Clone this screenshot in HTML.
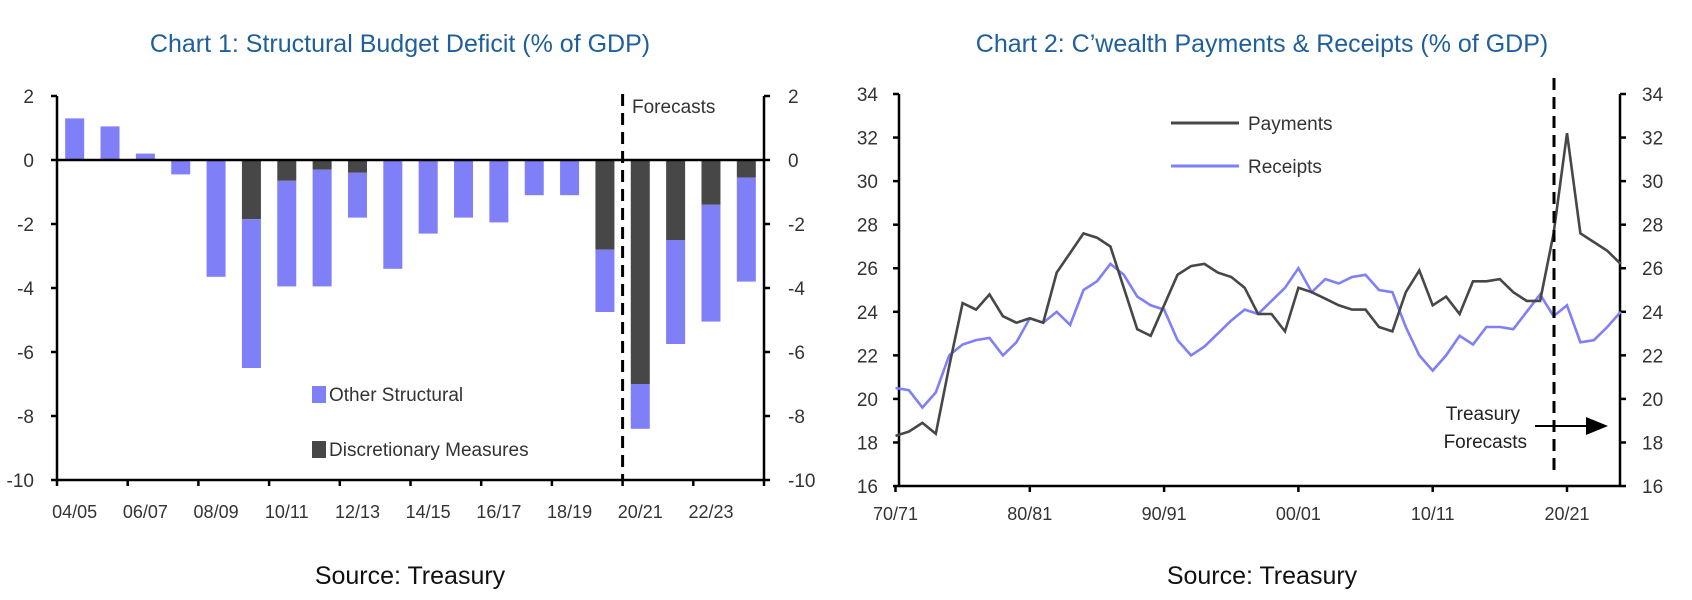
<!DOCTYPE html>
<html><head><meta charset="utf-8"><style>
body{margin:0;background:#fff;}
svg{display:block;font-family:"Liberation Sans",sans-serif;}
</style></head><body>
<svg id="root" width="1692" height="600" viewBox="0 0 1692 600">
<text x="400" y="52" text-anchor="middle" font-size="25" fill="#1f5f9c">Chart 1: Structural Budget Deficit (% of GDP)</text>
<text x="1262" y="52" text-anchor="middle" font-size="25" fill="#1f5f9c">Chart 2: C’wealth Payments &amp; Receipts (% of GDP)</text>
<text x="410" y="584" text-anchor="middle" font-size="25" fill="#111">Source: Treasury</text>
<text x="1262" y="584" text-anchor="middle" font-size="25" fill="#111">Source: Treasury</text>
<g id="c1"></g><g id="c2"></g>
</svg>
<script>
const c1Categories=["04/05","05/06","06/07","07/08","08/09","09/10","10/11","11/12","12/13","13/14","14/15","15/16","16/17","17/18","18/19","19/20","20/21","21/22","22/23","23/24"];
const c1Discretionary=[0,0,0,0,0,-1.85,-0.65,-0.3,-0.4,0,0,0,0,0,0,-2.8,-7.0,-2.5,-1.4,-0.55];
const c1Other=[1.3,1.05,0.2,-0.45,-3.65,-4.65,-3.3,-3.65,-1.4,-3.4,-2.3,-1.8,-1.95,-1.1,-1.1,-1.95,-1.4,-3.25,-3.65,-3.25];
const c1Ticks=[2,0,-2,-4,-6,-8,-10];
const c1XLabels=["04/05","06/07","08/09","10/11","12/13","14/15","16/17","18/19","20/21","22/23"];

const c2Years=[];for(let y=1970;y<=2024;y++)c2Years.push(y);
const c2Payments=[18.3,18.5,18.9,18.4,21.5,24.4,24.1,24.8,23.8,23.5,23.7,23.5,25.8,26.7,27.6,27.4,27.0,25.1,23.2,22.9,24.3,25.7,26.1,26.2,25.8,25.6,25.1,23.9,23.9,23.1,25.1,24.9,24.6,24.3,24.1,24.1,23.3,23.1,24.9,25.9,24.3,24.7,23.9,25.4,25.4,25.5,24.9,24.5,24.5,27.6,32.2,27.6,27.2,26.8,26.2];
const c2Receipts=[20.5,20.4,19.6,20.3,22.0,22.5,22.7,22.8,22.0,22.6,23.7,23.5,24.0,23.4,25.0,25.4,26.2,25.7,24.7,24.3,24.1,22.7,22.0,22.4,23.0,23.6,24.1,23.9,24.5,25.1,26.0,24.9,25.5,25.3,25.6,25.7,25.0,24.9,23.3,22.0,21.3,22.0,22.9,22.5,23.3,23.3,23.2,24.0,24.8,23.8,24.3,22.6,22.7,23.3,24.0];
const c2Ticks=[34,32,30,28,26,24,22,20,18,16];
const c2XLabels=["70/71","80/81","90/91","00/01","10/11","20/21"];
const c2LabelYears=[1970,1980,1990,2000,2010,2020];

const NS="http://www.w3.org/2000/svg";
function mk(p,t,a){const e=document.createElementNS(NS,t);for(const k in a)e.setAttribute(k,a[k]);p.appendChild(e);return e;}
const g1=document.getElementById('c1'),g2=document.getElementById('c2');

// Chart 1
const y1=v=>160-v*32;
const BAND=35.35,L1=57,R1=764;
const x1=i=>L1+(i+0.5)*BAND;
c1Categories.forEach((c,i)=>{
  const d=c1Discretionary[i],o=c1Other[i];
  if(d!==0){const r=mk(g1,'rect',{x:x1(i)-9.5,y:y1(0),width:19,height:y1(d)-y1(0),fill:'#474747'});
  
  }
  const a=y1(d),b=y1(d+o);
  const r2=mk(g1,'rect',{x:x1(i)-9.5,y:Math.min(a,b),width:19,height:Math.abs(b-a),fill:'#7f7ff8'});
  
  
});
mk(g1,'line',{x1:L1,y1:y1(0),x2:R1,y2:y1(0),stroke:'#000','stroke-width':2.5});
mk(g1,'line',{x1:L1,y1:y1(2),x2:L1,y2:y1(-10),stroke:'#000','stroke-width':2.5});
mk(g1,'line',{x1:R1,y1:y1(2),x2:R1,y2:y1(-10),stroke:'#000','stroke-width':2.5});
mk(g1,'line',{x1:L1,y1:y1(-10),x2:R1,y2:y1(-10),stroke:'#000','stroke-width':2.5});
for(let k=0;k<=10;k++){mk(g1,'line',{x1:L1+k*2*BAND,y1:y1(-10),x2:L1+k*2*BAND,y2:y1(-10)+6,stroke:'#000','stroke-width':2.5});}
c1Ticks.forEach(t=>{
  mk(g1,'line',{x1:L1-6,y1:y1(t),x2:L1,y2:y1(t),stroke:'#000','stroke-width':2.5});
  mk(g1,'line',{x1:R1,y1:y1(t),x2:R1+6,y2:y1(t),stroke:'#000','stroke-width':2.5});
  const a=mk(g1,'text',{x:34,y:y1(t)+7,'text-anchor':'end','font-size':19,fill:'#333'});a.textContent=t;
  
  
  const b=mk(g1,'text',{x:788,y:y1(t)+7,'font-size':19,fill:'#333'});b.textContent=t;
  
  
});
c1XLabels.forEach(l=>{const i=c1Categories.indexOf(l);
  const t=mk(g1,'text',{x:x1(i),y:518,'text-anchor':'middle','font-size':18,fill:'#333'});t.textContent=l;
  
  });
mk(g1,'line',{x1:L1+16*BAND,y1:94,x2:L1+16*BAND,y2:480,stroke:'#000','stroke-width':3,'stroke-dasharray':'12,7'});
let ft=mk(g1,'text',{x:632,y:113,'font-size':19,fill:'#333'});ft.textContent='Forecasts';

mk(g1,'rect',{x:312,y:386,width:14,height:17,fill:'#7f7ff8'});
let l1=mk(g1,'text',{x:329,y:401,'font-size':19,fill:'#333'});l1.textContent='Other Structural';

mk(g1,'rect',{x:312,y:441,width:14,height:17,fill:'#474747'});
let l2=mk(g1,'text',{x:329,y:456,'font-size':19,fill:'#333'});l2.textContent='Discretionary Measures';


// Chart 2
const y2=v=>94+(34-v)*21.78;
const x2=yr=>1567+(yr-2020)*13.43;
const L2=899,R2=1620;
mk(g2,'line',{x1:L2,y1:94,x2:L2,y2:486,stroke:'#000','stroke-width':2.5});
mk(g2,'line',{x1:R2,y1:94,x2:R2,y2:486,stroke:'#000','stroke-width':2.5});
mk(g2,'line',{x1:L2,y1:486,x2:R2,y2:486,stroke:'#000','stroke-width':2.5});
c2Ticks.forEach(t=>{
  mk(g2,'line',{x1:L2-6,y1:y2(t),x2:L2,y2:y2(t),stroke:'#000','stroke-width':2.5});
  mk(g2,'line',{x1:R2,y1:y2(t),x2:R2+6,y2:y2(t),stroke:'#000','stroke-width':2.5});
  const a=mk(g2,'text',{x:878,y:y2(t)+7,'text-anchor':'end','font-size':19,fill:'#333'});a.textContent=t;
  
  const b=mk(g2,'text',{x:1642,y:y2(t)+7,'font-size':19,fill:'#333'});b.textContent=t;
  
});
c2XLabels.forEach((l,k)=>{
  const xx=x2(c2LabelYears[k]);
  mk(g2,'line',{x1:xx,y1:486,x2:xx,y2:492,stroke:'#000','stroke-width':2.5});
  const t=mk(g2,'text',{x:xx,y:520,'text-anchor':'middle','font-size':18,fill:'#333'});t.textContent=l;
  });
const pts=a=>a.map((v,i)=>x2(c2Years[i]).toFixed(1)+','+y2(v).toFixed(1)).join(' ');
let pr=mk(g2,'polyline',{points:pts(c2Receipts),fill:'none',stroke:'#7f7ff8','stroke-width':2.6});

let pp=mk(g2,'polyline',{points:pts(c2Payments),fill:'none',stroke:'#474747','stroke-width':2.6});

mk(g2,'line',{x1:1554,y1:78,x2:1554,y2:476,stroke:'#000','stroke-width':3,'stroke-dasharray':'12,7'});
mk(g2,'line',{x1:1171,y1:123,x2:1239,y2:123,stroke:'#474747','stroke-width':3});
let lp=mk(g2,'text',{x:1248,y:130,'font-size':19,fill:'#333'});lp.textContent='Payments';

mk(g2,'line',{x1:1171,y1:166,x2:1239,y2:166,stroke:'#7f7ff8','stroke-width':3});
let lr=mk(g2,'text',{x:1248,y:173,'font-size':19,fill:'#333'});lr.textContent='Receipts';

let t1=mk(g2,'text',{x:1520,y:420,'text-anchor':'end','font-size':19,fill:'#222'});t1.textContent='Treasury';

let t2=mk(g2,'text',{x:1527,y:448,'text-anchor':'end','font-size':19,fill:'#222'});t2.textContent='Forecasts';

mk(g2,'line',{x1:1535,y1:426,x2:1592,y2:426,stroke:'#000','stroke-width':2});
mk(g2,'polygon',{points:'1586,417 1608,426 1586,435',fill:'#000'});
</script>
</body></html>
